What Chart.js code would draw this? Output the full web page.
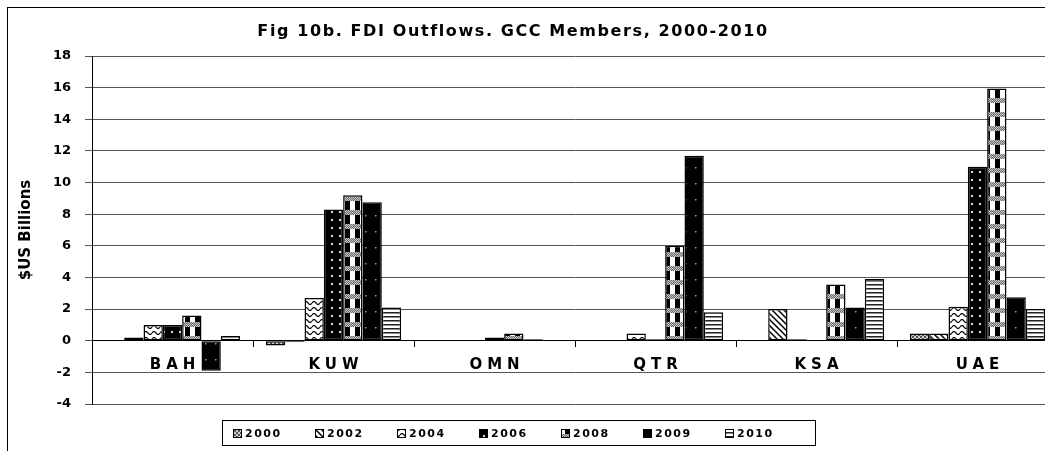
<!DOCTYPE html>
<html lang="en">
<head>
<meta charset="utf-8">
<title>Fig 10b. FDI Outflows</title>
<script src="https://cdn.jsdelivr.net/npm/chart.js@4.4.1/dist/chart.umd.min.js"></script>
<style>
    html, body { margin: 0; padding: 0; overflow: hidden; background: #fff; }
    /* plot runs a little past the right edge of the window, like the cropped original */
    .chart-box { position: relative; width: 1058px; height: 451px; }
</style>
</head>
<body>
<div class="chart-box"><canvas id="fdiChart"></canvas></div>
<script>
// FDI outflows per GCC member, $US billions
const countries = ['BAH', 'KUW', 'OMN', 'QTR', 'KSA', 'UAE'];
const years = ['2000', '2002', '2004', '2006', '2008', '2009', '2010'];

const outflows2000 = [0, -0.3, 0, 0, 0, 0.45];
const outflows2002 = [0.2, -0.1, 0, 0, 2.0, 0.45];
const outflows2004 = [1.0, 2.7, 0, 0.45, 0.1, 2.15];
const outflows2006 = [1.0, 8.3, 0.2, 0.1, 0, 11.0];
const outflows2008 = [1.6, 9.2, 0.45, 6.0, 3.55, 15.95];
const outflows2009 = [-1.9, 8.75, 0.1, 11.7, 2.1, 2.75];
const outflows2010 = [0.3, 2.1, 0, 1.8, 3.9, 2.0];

const yMin = -4;
const yMax = 18;
const yStep = 2;

const chartTitle = 'Fig 10b. FDI Outflows. GCC Members, 2000-2010';
const yAxisTitle = '$US Billions';

const FONT = "'DejaVu Sans', 'Liberation Sans', sans-serif";

Chart.defaults.font.family = FONT;
Chart.defaults.font.weight = 'bold';
Chart.defaults.color = '#000';

// black & white fills like the old excel print patterns
function makePattern(kind) {
    const sizes = { mesh: [4, 4], diagonal: [6, 6], wave: [8, 6], dots: [8, 8], checks: [10, 14], speckle: [10, 16], stripes: [4, 4] };
    const tile = document.createElement('canvas');
    tile.width = sizes[kind][0];
    tile.height = sizes[kind][1];
    const g = tile.getContext('2d');
    g.fillStyle = '#fff';
    g.fillRect(0, 0, tile.width, tile.height);

    if (kind === 'mesh') {
        g.fillStyle = '#d0d0d0';
        g.fillRect(0, 0, 4, 4);
        g.fillStyle = '#555';
        g.fillRect(0, 0, 2, 2);
        g.fillRect(2, 2, 2, 2);
    } else if (kind === 'diagonal') {
        g.strokeStyle = '#000';
        g.lineWidth = 1.5;
        g.beginPath();
        g.moveTo(-1, -1); g.lineTo(7, 7);
        g.moveTo(5, -1); g.lineTo(7, 1);
        g.moveTo(-1, 5); g.lineTo(1, 7);
        g.stroke();
    } else if (kind === 'wave') {
        g.strokeStyle = '#000';
        g.lineWidth = 1.2;
        g.beginPath();
        for (let x = 0; x <= 8; x += 0.5) {
            const y = 3 - 1.5 * Math.sin(x / 8 * Math.PI * 2);
            if (x === 0) g.moveTo(x, y); else g.lineTo(x, y);
        }
        g.stroke();
    } else if (kind === 'dots') {
        g.fillStyle = '#000';
        g.fillRect(0, 0, 8, 8);
        g.fillStyle = '#e0e0e0';
        g.fillRect(3, 3, 2, 2);
    } else if (kind === 'checks') {
        g.fillStyle = '#000';
        g.fillRect(5, 0, 5, 14);
        for (let y = 0; y < 5; y++) {
            for (let x = 0; x < 10; x++) {
                g.fillStyle = (x + y) % 2 ? '#6a6a6a' : '#c8c8c8';
                g.fillRect(x, y, 1, 1);
            }
        }
    } else if (kind === 'speckle') {
        g.fillStyle = '#000';
        g.fillRect(0, 0, 10, 16);
        g.fillStyle = '#9a9a9a';
        g.fillRect(5, 7, 1.5, 1.5);
    } else if (kind === 'stripes') {
        g.fillStyle = '#222';
        g.fillRect(0, 0, 4, 1);
        g.fillStyle = '#888';
        g.fillRect(0, 1, 4, 1);
    }
    return g.createPattern(tile, 'repeat');
}

const seriesValues = [outflows2000, outflows2002, outflows2004, outflows2006, outflows2008, outflows2009, outflows2010];
const seriesFills = ['mesh', 'diagonal', 'wave', 'dots', 'checks', 'speckle', 'stripes'];

const datasets = years.map((year, i) => ({
    label: year,
    data: seriesValues[i],
    backgroundColor: makePattern(seriesFills[i]),
    borderColor: '#000',
    borderWidth: 1.5,
    borderSkipped: false,
    categoryPercentage: 0.84,
    barPercentage: 1.0
}));

// frame, title, country names and boxed legend
const decorations = {
    id: 'decorations',
    beforeDraw(chart) {
        const ctx = chart.ctx;
        ctx.save();
        ctx.fillStyle = '#fff';
        ctx.fillRect(0, 0, chart.width, chart.height);
        ctx.strokeStyle = '#000';
        ctx.lineWidth = 1;
        ctx.strokeRect(7.5, 7.5, chart.width + 20, chart.height + 20);
        ctx.restore();
    },
    afterDraw(chart) {
        const ctx = chart.ctx;
        const xScale = chart.scales.x;
        const yScale = chart.scales.y;
        ctx.save();
        ctx.fillStyle = '#000';
        ctx.textAlign = 'center';
        ctx.textBaseline = 'middle';

        ctx.font = `bold 16px ${FONT}`;
        ctx.letterSpacing = '1.6px';
        ctx.fillText(chartTitle, 513, 32);

        // country names sit just under the zero line
        ctx.font = `bold 15px ${FONT}`;
        ctx.letterSpacing = '5px';
        const labelY = yScale.getPixelForValue(0) + 24;
        countries.forEach((name, i) => {
            ctx.fillText(name, xScale.getPixelForValue(i) + 2.5, labelY);
        });

        ctx.font = `bold 11px ${FONT}`;
        ctx.letterSpacing = '1.5px';
        ctx.textAlign = 'left';
        ctx.strokeStyle = '#000';
        ctx.lineWidth = 1;
        ctx.strokeRect(222.5, 420.5, 593, 25);
        let x = 233;
        chart.data.datasets.forEach(ds => {
            ctx.fillStyle = ds.backgroundColor;
            ctx.fillRect(x, 429, 9, 9);
            ctx.strokeRect(x + 0.5, 429.5, 8, 8);
            ctx.fillStyle = '#000';
            ctx.fillText(ds.label, x + 12, 434);
            x += 82;
        });
        ctx.letterSpacing = '0px';
        ctx.restore();
    }
};

const chart = new Chart(document.getElementById('fdiChart'), {
    type: 'bar',
    data: {
        labels: countries,
        datasets: datasets
    },
    options: {
        responsive: true,
        maintainAspectRatio: false,
        animation: false,
        layout: {
            padding: { top: 56, left: 12, right: 0, bottom: 47 }
        },
        plugins: {
            legend: { display: false },
            title: { display: false },
            tooltip: { enabled: false }
        },
        scales: {
            x: {
                type: 'category',
                position: { y: 0 },
                offset: true,
                grid: {
                    offset: true,
                    drawOnChartArea: false,
                    drawTicks: true,
                    tickLength: 6,
                    color: '#000'
                },
                border: { display: true, color: '#000', width: 1, z: 1 },
                ticks: { display: false }
            },
            y: {
                min: yMin,
                max: yMax,
                ticks: {
                    stepSize: yStep,
                    padding: 14,
                    font: { size: 13, weight: 'bold' }
                },
                grid: {
                    color: '#555',
                    tickLength: 7
                },
                border: { color: '#000', width: 1 },
                title: {
                    display: true,
                    text: yAxisTitle,
                    font: { size: 15, weight: 'bold' },
                    padding: { top: 5, bottom: 0 }
                },
                afterFit: (scale) => { scale.width = 80; }
            }
        }
    },
    plugins: [decorations]
});
</script>
</body>
</html>
